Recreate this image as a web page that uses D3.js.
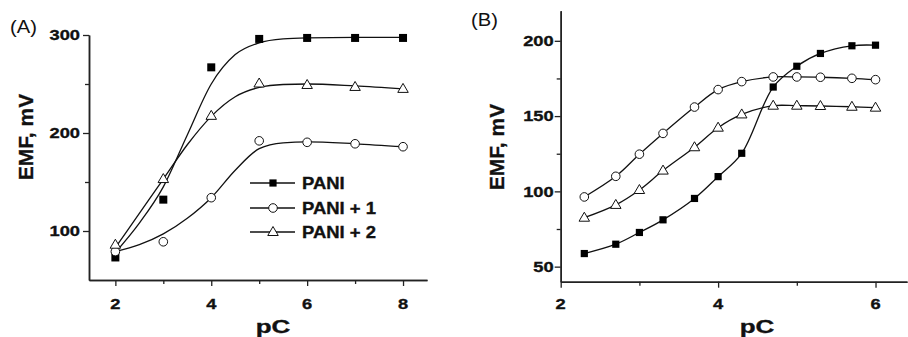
<!DOCTYPE html>
<html><head><meta charset="utf-8">
<script src="https://cdn.jsdelivr.net/npm/d3@7"></script>
<style>body{margin:0;background:#fff}svg{display:block}</style>
</head><body>
<script>
// ---------- DATA ----------
const seriesNames = ["PANI", "PANI + 1", "PANI + 2"];
// Panel A measured points
const pcA = [2, 3, 4, 5, 6, 7, 8];
const aPani  = [73, 132, 267, 296, 297, 297, 297];
const aPani1 = [79, 89, 134, 192, 190.5, 189, 186];
const aPani2 = [86, 153, 217.5, 250.5, 249, 247, 245];
// Panel A fitted curves
const aFitX     = [2, 2.5, 3, 3.5, 4, 4.5, 5, 5.5, 6, 7, 8];
const aFitPani  = [78, 108, 145, 198, 250, 280, 292, 296, 297, 297.5, 297.5];
const aFitPani1 = [79, 86, 97, 113, 134, 162, 184, 190, 191, 189, 186];
const aFitPani2 = [83, 118, 153, 188, 217, 237, 246.5, 249.5, 250, 248, 245];
// Panel B
const pcB = [2.3, 2.7, 3.0, 3.3, 3.7, 4.0, 4.3, 4.7, 5.0, 5.3, 5.7, 6.0];
const bPani  = [58.7, 64.9, 72.7, 81.1, 95.3, 109.8, 125.3, 169.3, 183.1, 191.6, 196.7, 197.1];
const bPani1 = [96.3, 110, 124.7, 138.5, 156, 167.6, 172.9, 176, 176, 175.8, 175.1, 174.2];
const bPani2 = [82.5, 91, 100.9, 113.8, 129.3, 142.3, 151.1, 156.9, 156.9, 156.7, 156.2, 155.6];
// Ticks
const ticksAx = [2, 4, 6, 8], minorAx = [3, 5, 7];
const ticksAy = [100, 200, 300], minorAy = [150, 250];
const ticksBx = [2, 4, 6], minorBx = [3, 5];
const ticksBy = [50, 100, 150, 200], minorBy = [75, 125, 175];
const xTitle = "pC", yTitle = "EMF, mV";

// ---------- DRAW ----------
const W = 908, H = 337;
const FONT = "'Liberation Sans', Arial, sans-serif";
const svg = d3.select("body").append("svg").attr("width", W).attr("height", H);

function txt(g, x, y, s, o) {
  const t = g.append("text").attr("transform", `translate(${x},${y}) scale(${o.sx||1},1)` + (o.rot ? ` rotate(${o.rot})` : ""))
    .attr("text-anchor", o.anchor || "start").attr("font-family", FONT)
    .attr("font-size", o.size).attr("font-weight", o.weight || "bold").attr("fill", "#111").text(s);
  if ((o.weight || "bold") === "bold") t.attr("stroke", "#111").attr("stroke-width", 0.35);
  return t;
}

function marker(g, type, cx, cy, big) {
  if (type === 0) {
    const s = big ? 8 : 7.2;
    g.append("rect").attr("x", cx - s/2).attr("y", cy - s/2).attr("width", s).attr("height", s).attr("fill", "#000");
  } else if (type === 1) {
    g.append("circle").attr("cx", cx).attr("cy", cy).attr("r", 4.3).attr("fill", "#fff").attr("stroke", "#111").attr("stroke-width", 1);
  } else {
    const w = 10.5, h = 9;
    g.append("path").attr("d", `M${cx - w/2},${cy + h/2 - 1}L${cx + w/2},${cy + h/2 - 1}L${cx},${cy - h/2 - 1}Z`)
      .attr("fill", "#fff").attr("stroke", "#111").attr("stroke-width", 1);
  }
}

function axes(g, x, y, tx, mx, ty, my, ylabOff) {
  const [y0] = y.range(); const [x0] = x.range();
  const ax = g.append("g").attr("transform", `translate(0,${y0})`);
  ax.call(d3.axisBottom(x).tickValues(tx).tickSize(6).tickSizeOuter(0).tickFormat(""));
  ax.append("g").call(d3.axisBottom(x).tickValues(mx).tickSize(4).tickSizeOuter(0).tickFormat(""));
  const ay = g.append("g").attr("transform", `translate(${x0},0)`);
  ay.call(d3.axisLeft(y).tickValues(ty).tickSize(6).tickSizeOuter(0).tickFormat(""));
  ay.append("g").call(d3.axisLeft(y).tickValues(my).tickSize(4).tickSizeOuter(0).tickFormat(""));
  g.selectAll(".domain").attr("stroke", "#222").attr("stroke-width", 1.5);
  g.selectAll(".tick line").attr("stroke", "#222").attr("stroke-width", 1.3);
  tx.forEach(v => txt(g, x(v), 308.5, String(v), {size: 15, sx: 1.22, anchor: "middle"}));
  ty.forEach(v => txt(g, x0 - ylabOff, y(v) + 5.4, String(v), {size: 15, sx: 1.22, anchor: "end"}));
}

// Panel A
const gA = svg.append("g");
const xA = d3.scaleLinear().domain([1.45, 8.5]).range([89, 427]);
const yA = d3.scaleLinear().domain([50, 300]).range([280, 35]);
axes(gA, xA, yA, ticksAx, minorAx, ticksAy, minorAy, 9);
const lineA = d3.line().x(d => xA(d[0])).y(d => yA(d[1])).curve(d3.curveMonotoneX);
[aFitPani, aFitPani1, aFitPani2].forEach(arr => {
  gA.append("path").attr("d", lineA(aFitX.map((v, i) => [v, arr[i]])))
    .attr("fill", "none").attr("stroke", "#111").attr("stroke-width", 1.3);
});
[aPani, aPani1, aPani2].forEach((arr, k) => {
  arr.forEach((v, i) => marker(gA, k, xA(pcA[i]), yA(v), true));
});
// legend
const legY = [183, 208, 232];
seriesNames.forEach((n, k) => {
  gA.append("line").attr("x1", 250).attr("x2", 295).attr("y1", legY[k]).attr("y2", legY[k])
    .attr("stroke", "#111").attr("stroke-width", 1.3);
  marker(gA, k, 273, legY[k], false);
  txt(gA, 302, legY[k] + 6, n, {size: 16.5, sx: 1.12});
});
txt(gA, 273, 333, xTitle, {size: 18.5, sx: 1.4, anchor: "middle"});
txt(gA, 33, 137, yTitle, {size: 21, rot: -90, anchor: "middle"});
txt(gA, 10, 33, "(A)", {size: 18, sx: 1.12, weight: "normal"});

// Panel B
const gB = svg.append("g");
const xB = d3.scaleLinear().domain([2, 6.4]).range([560.7, 907]);
const yB = d3.scaleLinear().domain([40, 220]).range([281.7, 10.7]);
axes(gB, xB, yB, ticksBx, minorBx, ticksBy, minorBy, 7);
const lineB = d3.line().x(d => xB(d[0])).y(d => yB(d[1])).curve(d3.curveCatmullRom.alpha(0.5));
[bPani, bPani1, bPani2].forEach((arr, k) => {
  gB.append("path").attr("d", lineB(pcB.map((v, i) => [v, arr[i]])))
    .attr("fill", "none").attr("stroke", "#111").attr("stroke-width", 1.3);
});
[bPani, bPani1, bPani2].forEach((arr, k) => {
  arr.forEach((v, i) => marker(gB, k, xB(pcB[i]), yB(v), false));
});
txt(gB, 757, 333, xTitle, {size: 18.5, sx: 1.4, anchor: "middle"});
txt(gB, 504, 147, yTitle, {size: 21, rot: -90, anchor: "middle"});
txt(gB, 471, 26, "(B)", {size: 18, sx: 1.12, weight: "normal"});
</script>
</body></html>
